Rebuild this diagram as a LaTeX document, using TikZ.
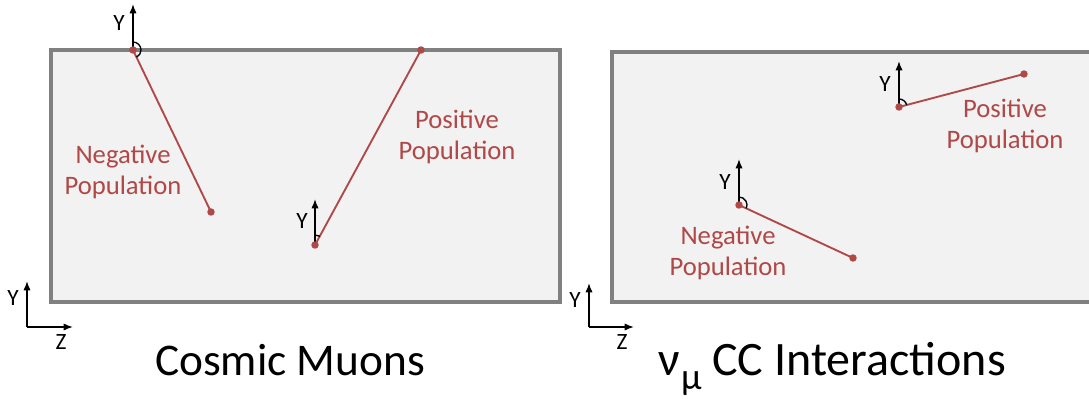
\documentclass[tikz,border=0pt]{standalone}
\usepackage{fontspec}
\setmainfont{Carlito}
\usetikzlibrary{arrows.meta}
\definecolor{boxfill}{RGB}{242,242,242}
\definecolor{boxline}{RGB}{128,128,128}
\definecolor{trk}{RGB}{176,72,72}
\tikzset{
  detbox/.style={draw=boxline, fill=boxfill, line width=2.4pt},
  track/.style={draw=trk, line width=1.4pt},
  dot/.style={fill=trk, draw=none},
  axis/.style={draw=black, line width=1.2pt, -{Latex[length=7pt,width=5.5pt]}},
  anglearc/.style={draw=black, line width=1pt},
  poplabel/.style={text=trk, align=center, font=\fontsize{20}{23}\selectfont},
  axlabel/.style={font=\fontsize{17.5}{17.5}\selectfont, inner sep=0pt},
  title/.style={font=\fontsize{34}{34}\selectfont, inner sep=0pt, anchor=base}
}
\begin{document}
\begin{tikzpicture}[x=0.75pt,y=-0.75pt]
\useasboundingbox (0,0) rectangle (1089,399);
\clip (0,0) rectangle (1089,399);
% boxes
\draw[detbox] (51,50) rectangle (560,302);
\draw[detbox] (612,52) rectangle (1100,302);
% ---- Cosmic muons: negative
\coordinate (cn1) at (133,50);
\coordinate (cn2) at (211,212);
\coordinate (cnY) at (133,4);
\draw[track] (cn1) -- (cn2);
\draw[axis] (cn1) -- (cnY);
\draw[anglearc] (cn1) ++(0,-8) arc[start angle=-90, end angle=64, radius=8];
\fill[dot] (cn1) circle (2.8pt);
\fill[dot] (cn2) circle (2.8pt);
\node[axlabel] (cnYl) at (119,23) {Y};
\node[poplabel] (cnl) at (123,172) {Negative\\Population};
% ---- Cosmic muons: positive
\coordinate (cp1) at (315,245);
\coordinate (cp2) at (421,50);
\coordinate (cpY) at (315,199);
\draw[track] (cp1) -- (cp2);
\draw[axis] (cp1) -- (cpY);
\draw[anglearc] (cp1) ++(0,-10) arc[start angle=-90, end angle=-61, radius=10];
\fill[dot] (cp1) circle (2.8pt);
\fill[dot] (cp2) circle (2.8pt);
\node[axlabel] (cpYl) at (302,221) {Y};
\node[poplabel] (cpl) at (457,137) {Positive\\Population};
% ---- CC: positive
\coordinate (np1) at (899,107);
\coordinate (np2) at (1024,74);
\coordinate (npY) at (899,61);
\draw[track] (np1) -- (np2);
\draw[axis] (np1) -- (npY);
\draw[anglearc] (np1) ++(0,-8) arc[start angle=-90, end angle=-15, radius=8];
\fill[dot] (np1) circle (2.8pt);
\fill[dot] (np2) circle (2.8pt);
\node[axlabel] (npYl) at (885,84) {Y};
\node[poplabel] (npl) at (1005,126) {Positive\\Population};
% ---- CC: negative
\coordinate (nn1) at (739,205);
\coordinate (nn2) at (853,258);
\coordinate (nnY) at (739,159);
\draw[track] (nn1) -- (nn2);
\draw[axis] (nn1) -- (nnY);
\draw[anglearc] (nn1) ++(0,-8) arc[start angle=-90, end angle=25, radius=8];
\fill[dot] (nn1) circle (2.8pt);
\fill[dot] (nn2) circle (2.8pt);
\node[axlabel] (nnYl) at (725,182) {Y};
\node[poplabel] (nnl) at (728,253) {Negative\\Population};
% ---- frame axes
\coordinate (o1) at (27,327);
\coordinate (o1y) at (27,281);
\coordinate (o1z) at (73,327);
\draw[axis] (o1) -- (o1y);
\draw[axis] (o1) -- (o1z);
\node[axlabel] (o1yl) at (13,298) {Y};
\node[axlabel] (o1zl) at (61,342) {Z};
\coordinate (o2) at (589,327);
\coordinate (o2y) at (589,283);
\coordinate (o2z) at (634,327);
\draw[axis] (o2) -- (o2y);
\draw[axis] (o2) -- (o2z);
\node[axlabel] (o2yl) at (575,300) {Y};
\node[axlabel] (o2zl) at (622,342) {Z};
% ---- titles
\node[title] (t1) at (290,375) {Cosmic Muons};
\node[title, font=\fontsize{36}{36}\selectfont] (t2) at (832,375) {ν\kern1pt\raisebox{-0.3em}{\fontsize{28}{28}\selectfont μ} CC Interactions};
\end{tikzpicture}
\end{document}
